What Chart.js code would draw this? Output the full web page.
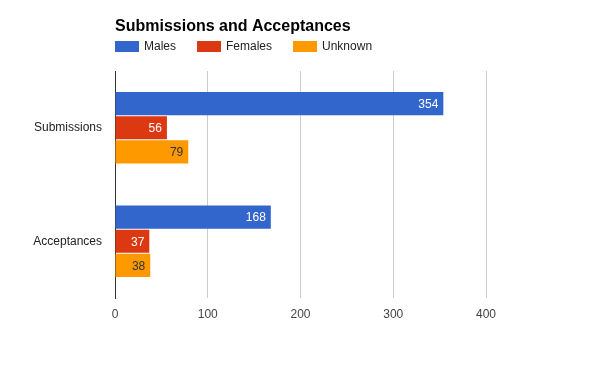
<!DOCTYPE html>
<html><head><meta charset="utf-8">
<script src="https://cdn.jsdelivr.net/npm/chart.js@4"></script>
<style>html,body{margin:0;padding:0;background:#fff}#wrap{width:600px;height:371px;position:relative}</style>
</head><body><div id="wrap"><canvas id="c" width="600" height="371"></canvas></div>
<script>
const chartTitle = "Submissions and Acceptances";
const categories = ["Submissions", "Acceptances"];
const seriesNames = ["Males", "Females", "Unknown"];
const males = [354, 168];
const females = [56, 37];
const unknown = [79, 38];
const xTicks = [0, 100, 200, 300, 400];
const colors = ["#3366cc", "#dc3912", "#ff9900"];
const labelColors = ["#ffffff", "#ffffff", "#333333"];

const FONT = "'Liberation Sans', Arial, sans-serif";

const overlay = {
  id: "overlay",
  afterDraw(chart) {
    const ctx = chart.ctx;
    const ca = chart.chartArea;
    ctx.save();
    // title
    ctx.font = "bold 16px " + FONT;
    ctx.fillStyle = "#000";
    ctx.textAlign = "left";
    ctx.textBaseline = "alphabetic";
    ctx.fillText(chartTitle, ca.left, 31);
    // legend
    ctx.font = "12px " + FONT;
    ctx.textBaseline = "middle";
    let x = ca.left;
    chart.data.datasets.forEach((ds, i) => {
      ctx.fillStyle = ds.backgroundColor;
      ctx.fillRect(x, 41, 24, 11);
      ctx.fillStyle = "#222";
      ctx.fillText(ds.label, x + 29, 47);
      x += 29 + ctx.measureText(ds.label).width + 21;
    });
    // value labels
    ctx.font = "12px " + FONT;
    ctx.textAlign = "right";
    chart.data.datasets.forEach((ds, i) => {
      const meta = chart.getDatasetMeta(i);
      meta.data.forEach((bar, j) => {
        ctx.fillStyle = labelColors[i];
        ctx.fillText(String(ds.data[j]), bar.x - 5, bar.y + 1);
      });
    });
    ctx.restore();
  }
};

new Chart(document.getElementById("c"), {
  type: "bar",
  data: {
    labels: categories,
    datasets: [
      { label: seriesNames[0], data: males, backgroundColor: colors[0] },
      { label: seriesNames[1], data: females, backgroundColor: colors[1] },
      { label: seriesNames[2], data: unknown, backgroundColor: colors[2] }
    ]
  },
  options: {
    indexAxis: "y",
    responsive: false,
    animation: false,
    devicePixelRatio: 1,
    layout: { padding: { top: 71, right: 114, bottom: 43, left: 0 } },
    datasets: { bar: { categoryPercentage: 0.64, barPercentage: 0.96, borderWidth: 0 } },
    plugins: { legend: { display: false }, title: { display: false }, tooltip: { enabled: false } },
    scales: {
      x: {
        min: 0, max: 400,
        afterBuildTicks(scale) { scale.ticks = xTicks.map(v => ({ value: v })); },
        afterFit(scale) { scale.height = 30; },
        grid: {
          color: ctx => (ctx.tick && ctx.tick.value === 0) ? "#333333" : "#cccccc",
          lineWidth: 1,
          drawTicks: false
        },
        border: { display: false },
        ticks: { color: "#444", font: { family: FONT, size: 12 }, padding: 9 }
      },
      y: {
        afterFit(scale) { scale.width = 115; },
        grid: { display: false, drawTicks: false },
        border: { display: true, color: "#333333" },
        ticks: { color: "#222", font: { family: FONT, size: 12 }, padding: 13 }
      }
    }
  },
  plugins: [overlay]
});
</script></body></html>
